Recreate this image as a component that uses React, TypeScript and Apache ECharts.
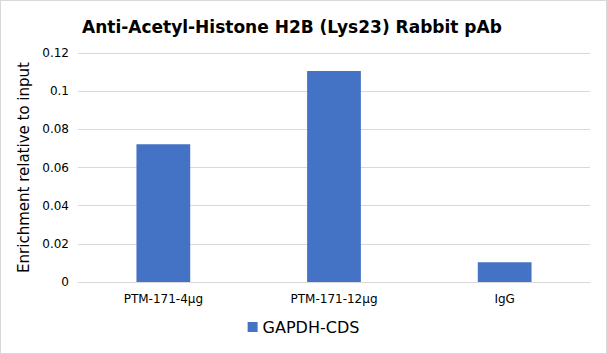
import React, { useEffect, useRef } from "react";
import * as echarts from "echarts";

const categories = ["PTM-171-4μg", "PTM-171-12μg", "IgG"];
const values = [0.0722, 0.1106, 0.0104];
const seriesName = "GAPDH-CDS";
const titleText = "Anti-Acetyl-Histone H2B (Lys23) Rabbit pAb";
const yAxisName = "Enrichment relative to input";

export default function App() {
  const ref = useRef<HTMLDivElement>(null);
  useEffect(() => {
    document.body.style.margin = "0";
    const chart = echarts.init(ref.current!, undefined, { renderer: "svg" });
    chart.setOption({
      animation: false,
      backgroundColor: "#ffffff",
      title: {
        text: titleText,
        left: 76,
        top: 12,
        textStyle: { fontFamily: "DejaVu Sans", fontSize: 17, fontWeight: "bold", color: "#000" },
      },
      grid: { left: 77, right: 16, top: 52, bottom: 71 },
      legend: {
        bottom: 13,
        left: "center",
        itemWidth: 10,
        itemHeight: 10,
        itemGap: 6,
        icon: "rect",
        textStyle: { fontFamily: "DejaVu Sans", fontSize: 16, color: "#000" },
        data: [seriesName],
      },
      xAxis: {
        type: "category",
        data: categories,
        axisLine: { lineStyle: { color: "#d9d9d9" } },
        axisTick: { show: false },
        axisLabel: { fontFamily: "DejaVu Sans", fontSize: 12, color: "#000", margin: 11 },
      },
      yAxis: {
        type: "value",
        min: 0,
        max: 0.12,
        interval: 0.02,
        name: yAxisName,
        nameLocation: "middle",
        nameGap: 39,
        nameTextStyle: { fontFamily: "DejaVu Sans", fontSize: 15, color: "#000" },
        axisLabel: { fontFamily: "DejaVu Sans", fontSize: 12, color: "#000", margin: 9 },
        splitLine: { lineStyle: { color: "#d9d9d9" } },
        axisLine: { show: false },
        axisTick: { show: false },
      },
      series: [
        {
          name: seriesName,
          type: "bar",
          data: values,
          barWidth: "31.5%",
          itemStyle: { color: "#4472c4" },
        },
      ],
    });
    return () => chart.dispose();
  }, []);
  return (
    <div
      ref={ref}
      style={{
        position: "fixed",
        left: 0,
        top: 0,
        width: 607,
        height: 354,
        boxSizing: "border-box",
        border: "1px solid #d9d9d9",
      }}
    />
  );
}
